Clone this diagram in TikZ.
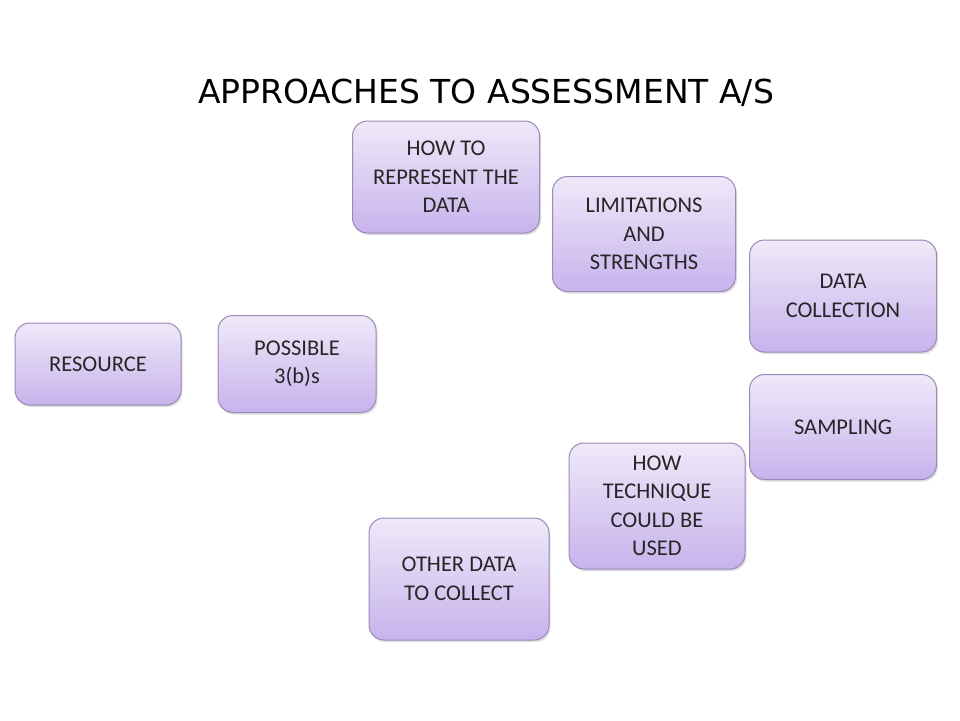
\documentclass[tikz,border=0pt]{standalone}
\usepackage{fontspec}
\setmainfont{Carlito}
\newfontfamily\titlefont{DejaVu Sans}
\usetikzlibrary{shadows}
\definecolor{boxtop}{HTML}{EFE9F9}
\definecolor{boxbottom}{HTML}{C7B3EC}
\definecolor{boxline}{HTML}{9C89B8}
\tikzset{
  topicbox/.style={draw=boxline, line width=1pt, rounded corners=15pt,
    top color=boxtop, bottom color=boxbottom, align=center,
    font=\fontsize{22.5}{28.5}\selectfont, text=black!85,
    drop shadow={opacity=0.25, shadow xshift=1.5pt, shadow yshift=-2pt}}
}
\begin{document}
\begin{tikzpicture}[x=1pt, y=-1pt]
  \useasboundingbox (0,0) rectangle (960,720);
  \fill[white] (0,0) rectangle (960,720);
  \node[font=\titlefont\fontsize{33}{40}\selectfont] (title) at (486,93) {APPROACHES TO ASSESSMENT A/S};
  % boxes, centres taken from the slide
  \node[topicbox, minimum width=166pt, minimum height=82pt] (resource) at (98,364) {RESOURCE};
  \node[topicbox, minimum width=158pt, minimum height=97pt] (possible) at (297,364) {POSSIBLE\\3(b)s};
  \node[topicbox, minimum width=187pt, minimum height=112pt] (represent) at (446,177) {HOW TO\\REPRESENT THE\\DATA};
  \node[topicbox, minimum width=183pt, minimum height=115pt] (limits) at (644,234) {LIMITATIONS\\AND\\STRENGTHS};
  \node[topicbox, minimum width=187pt, minimum height=112pt] (collection) at (843,296) {DATA\\COLLECTION};
  \node[topicbox, minimum width=187pt, minimum height=105pt] (sampling) at (843,427) {SAMPLING};
  \node[topicbox, minimum width=176pt, minimum height=126pt] (technique) at (657,506) {HOW\\TECHNIQUE\\COULD BE\\USED};
  \node[topicbox, minimum width=180pt, minimum height=122pt] (otherdata) at (459,579) {OTHER DATA\\TO COLLECT};
\end{tikzpicture}
\end{document}
